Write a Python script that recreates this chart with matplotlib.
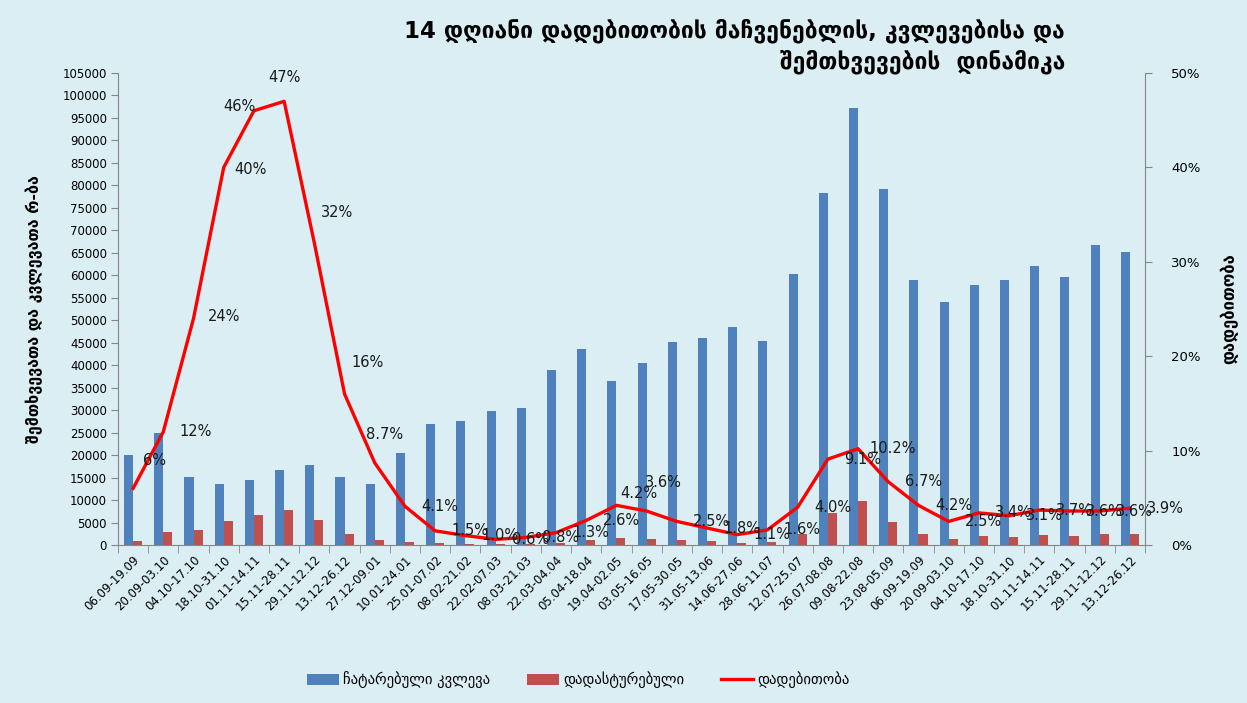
import matplotlib
matplotlib.use("Agg")
import matplotlib.pyplot as plt
import numpy as np

plt.rcParams["font.family"] = ["DejaVu Sans"]

# two-week periods
periods = [
    "06.09-19.09", "20.09-03.10", "04.10-17.10", "18.10-31.10", "01.11-14.11",
    "15.11-28.11", "29.11-12.12", "13.12-26.12", "27.12-09.01", "10.01-24.01",
    "25.01-07.02", "08.02-21.02", "22.02-07.03", "08.03-21.03", "22.03-04.04",
    "05.04-18.04", "19.04-02.05", "03.05-16.05", "17.05-30.05", "31.05-13.06",
    "14.06-27.06", "28.06-11.07", "12.07-25.07", "26.07-08.08", "09.08-22.08",
    "23.08-05.09", "06.09-19.09", "20.09-03.10", "04.10-17.10", "18.10-31.10",
    "01.11-14.11", "15.11-28.11", "29.11-12.12", "13.12-26.12",
]

# tests performed
tests = [
    20000, 24900, 15200, 13600, 14500, 16700, 17800, 15200, 13600, 20500,
    26900, 27600, 29800, 30400, 39000, 43600, 36500, 40500, 45200, 46100,
    48500, 45400, 60300, 78300, 97200, 79200, 59000, 54000, 57800, 59000,
    62100, 59600, 66700, 65100,
]

# confirmed cases
confirmed = [
    1000, 2900, 3400, 5300, 6700, 7800, 5600, 2500, 1100, 750,
    400, 280, 180, 250, 500, 1100, 1450, 1400, 1050, 800,
    500, 650, 2400, 7100, 9800, 5200, 2450, 1250, 1900, 1800,
    2250, 2100, 2350, 2500,
]

# positivity, %
positivity = [
    6, 12, 24, 40, 46, 47, 32, 16, 8.7, 4.1,
    1.5, 1.0, 0.6, 0.8, 1.3, 2.6, 4.2, 3.6, 2.5, 1.8,
    1.1, 1.6, 4.0, 9.1, 10.2, 6.7, 4.2, 2.5, 3.4, 3.1,
    3.7, 3.6, 3.6, 3.9,
]

pos_labels = [
    "6%", "12%", "24%", "40%", "46%", "47%", "32%", "16%", "8.7%", "4.1%",
    "1.5%", "1.0%", "0.6%", "0.8%", "1.3%", "2.6%", "4.2%", "3.6%", "2.5%", "1.8%",
    "1.1%", "1.6%", "4.0%", "9.1%", "10.2%", "6.7%", "4.2%", "2.5%", "3.4%", "3.1%",
    "3.7%", "3.6%", "3.6%", "3.9%",
]

BG = "#DAEEF3"
BLUE = "#4F81BD"
RED = "#C0504D"
AXC = "#868686"

fig = plt.figure(figsize=(12.47, 7.03), dpi=100, facecolor=BG)
ax = fig.add_axes([118 / 1247, 1 - 545 / 703, (1145 - 118) / 1247, (545 - 73) / 703])
ax.set_facecolor(BG)

x = np.arange(len(periods))
w = 0.3
ax.bar(x - w / 2, tests, width=w, color=BLUE, label="ჩატარებული კვლევა", zorder=2)
ax.bar(x + w / 2, confirmed, width=w, color=RED, label="დადასტურებული", zorder=2)

ax.set_xlim(-0.5, len(periods) - 0.5)
ax.set_ylim(0, 105000)
ax.set_yticks(np.arange(0, 105001, 5000))
ax.tick_params(axis="y", labelsize=8.5, length=5, color=AXC, pad=3)
ax.set_xticks(x)
ax.set_xticklabels(periods, rotation=45, ha="right", rotation_mode="anchor", fontsize=8.5)
ax.tick_params(axis="x", length=0, pad=6)
# category separators on the x axis
ax.set_xticks(np.arange(-0.5, len(periods)), minor=True)
ax.tick_params(axis="x", which="minor", length=6, color=AXC)
for s in ["top", "right"]:
    ax.spines[s].set_visible(False)
for s in ["left", "bottom"]:
    ax.spines[s].set_color(AXC)
ax.set_ylabel("შემთხვევათა და კვლევათა რ-ბა", fontsize=11.5, fontweight="bold", labelpad=14)

ax2 = ax.twinx()
ax2.set_ylim(0, 50)
ax2.set_yticks(np.arange(0, 51, 10))
ax2.set_yticklabels([f"{v}%" for v in range(0, 51, 10)])
ax2.tick_params(axis="y", labelsize=9.5, length=5, color=AXC, pad=14)
for s in ["top", "left", "bottom"]:
    ax2.spines[s].set_visible(False)
ax2.spines["right"].set_color(AXC)
line, = ax2.plot(x, positivity, color="#FF0000", linewidth=2.4, label="დადებითობა", zorder=3)
ax2.set_ylabel("დადებითობა", fontsize=12, fontweight="bold", labelpad=14)

# label placement (pixels from the point); default is to the right
offsets = {0: (21, 28), 1: (32, 0), 2: (31, 2), 3: (27, -2), 4: (-14, 4),
           5: (0, 24), 6: (23, 30), 7: (23, 31), 8: (10, 28), 16: (22, 12),
           17: (17, 29)}
for i, (xi, yi, lab) in enumerate(zip(x, positivity, pos_labels)):
    dx, dy = offsets.get(i, (35, 0))
    ax2.annotate(lab, (xi, yi), xytext=(dx, dy), textcoords="offset pixels",
                 ha="center", va="center", fontsize=10.5, color="#1a1a1a", zorder=4)

fig.text(1065 / 1247, 1 - 46 / 703,
         "14 დღიანი დადებითობის მაჩვენებლის, კვლევებისა და\nშემთხვევების  დინამიკა",
         ha="right", va="center", multialignment="right", fontsize=16.5,
         fontweight="bold", linespacing=1.35)

handles = [ax.patches[0], ax.patches[len(periods)], line]
fig.legend(handles, ["ჩატარებული კვლევა", "დადასტურებული", "დადებითობა"],
           loc="center", bbox_to_anchor=(578 / 1247, 1 - 680 / 703), ncol=3,
           frameon=False, fontsize=10.5, handlelength=2.2, handleheight=0.8,
           columnspacing=2.5, handletextpad=0.3)

fig.savefig("out.png", dpi=100, facecolor=BG)
